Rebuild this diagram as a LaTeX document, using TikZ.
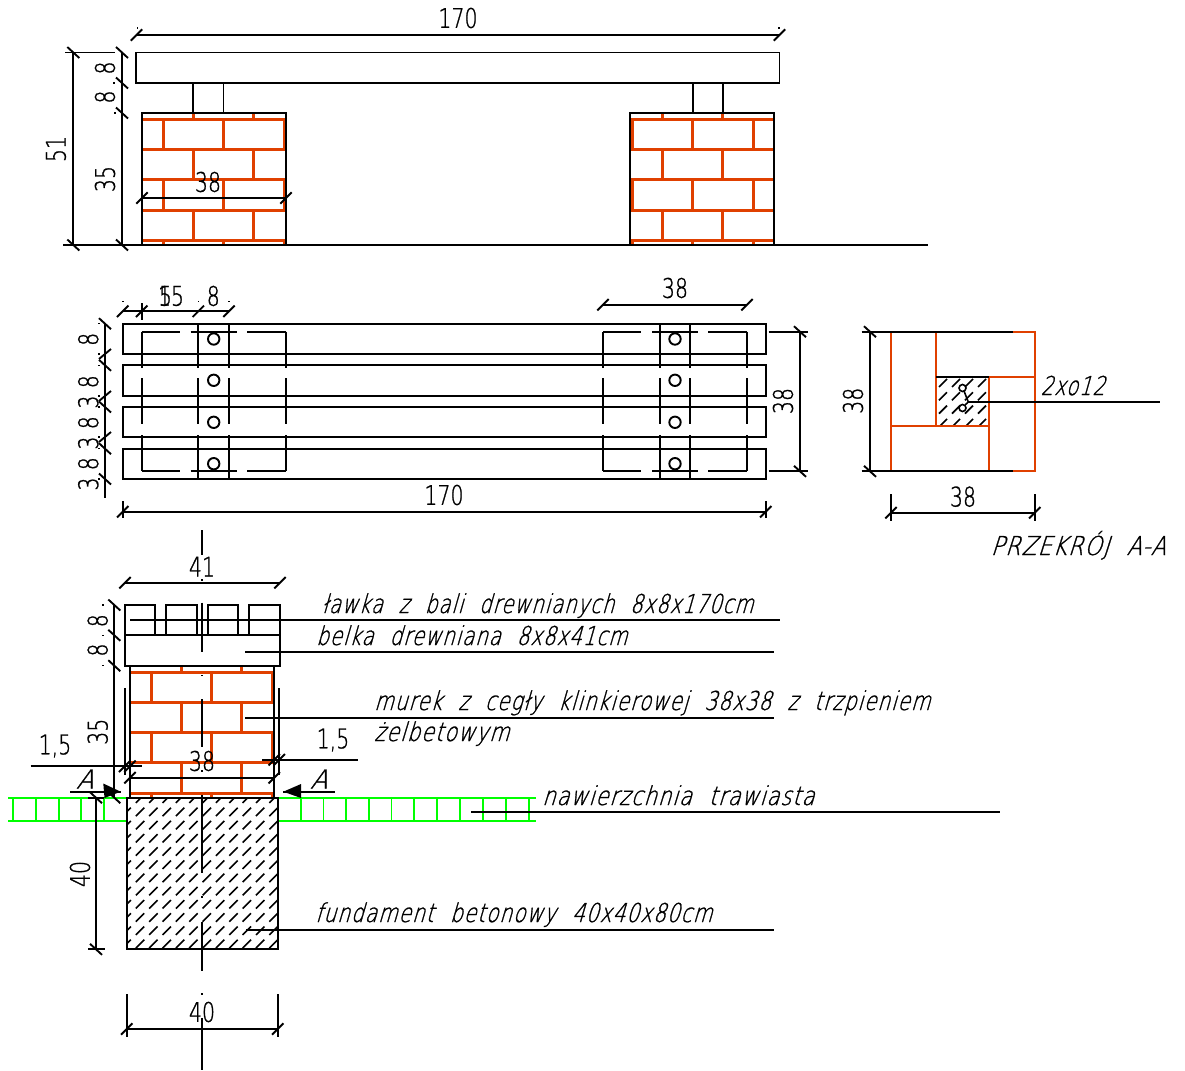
\documentclass[tikz,border=0pt]{standalone}
\usepackage{fontspec}
\usepackage{graphicx}
\setmainfont[FakeStretch=0.76,FakeBold=0.9]{DejaVu Sans ExtraLight}
\newfontfamily\noteface[FakeStretch=0.58,FakeSlant=0.22,FakeBold=0.8,LetterSpace=3,WordSpace=2.2]{DejaVu Sans ExtraLight}
\definecolor{brick}{HTML}{E04000}
\definecolor{grass}{HTML}{00FF00}
\tikzset{
 ln/.style={line width=1.9pt,black},
 thin ln/.style={line width=1.6pt,black},
 br/.style={line width=3pt,brick},
 sec/.style={line width=1.9pt,brick},
 gr/.style={line width=1.9pt,grass},
 dm/.style={font=\fontsize{27}{27}\selectfont,inner sep=0pt},
 dmv/.style={dm,rotate=90},
 note/.style={inner sep=0pt,anchor=base west},
}
\newcommand\fitnote[2]{\resizebox{#1pt}{\height}{\fontsize{26}{26}\noteface #2}}
% ticks
\newcommand\tickh[2]{\draw[ln] (#1-5.7,#2+5.7) -- (#1+5.7,#2-5.7);}
\newcommand\tickv[2]{\draw[ln] (#1-6,#2-5.5) -- (#1+6,#2+5.5);}
\newcommand\hdim[3]{\draw[ln] (#1,#3) -- (#2,#3); \tickh{#1}{#3}\tickh{#2}{#3}}
\newcommand\vdim[3]{\draw[ln] (#3,#1) -- (#3,#2); \tickv{#3}{#1}\tickv{#3}{#2}}
\newcommand\dotm[2]{\fill (#1-.7,#2-.7) rectangle (#1+.7,#2+.7);}
% brick rows
\newcommand\rowv[3]{\foreach \xx in {#3}{\draw[br] (\xx,#1) -- (\xx,#2);}}
\begin{document}
\begin{tikzpicture}[x=1pt,y=-1pt]
\useasboundingbox[fill=white] (0,0) rectangle (1185,1070);
%% ===== front elevation
\foreach \ox/\a/\b/\c/\d/\e in {142/163/223.3/284.3/193.3/253.3, 630/632/692.7/753/662.3/722.7}{
  \foreach \yy in {119.3,149.3,179.3,210,240}{\draw[br] (\ox,\yy) -- (\ox+144,\yy);}
  \rowv{113}{119.3}{\d,\e}
  \rowv{119.3}{149.3}{\a,\b,\c}
  \rowv{149.3}{179.3}{\d,\e}
  \rowv{179.3}{210}{\a,\b,\c}
  \rowv{210}{240}{\d,\e}
  \rowv{240}{245}{\a,\b,\c}
  \draw[ln] (\ox,245) -- (\ox,113) -- (\ox+144,113) -- (\ox+144,245);
}
\draw[ln] (136,52.5) rectangle (779.5,83);
\draw[ln] (193.3,83) rectangle (223.5,113);
\draw[ln] (692.7,83) rectangle (722.7,113);
\draw[ln] (63,245) -- (928,245);
\hdim{136.5}{779.5}{35}
\dotm{137.3}{28}\dotm{779}{28}
\node[dm] (t170a) at (458,18) {170};
\draw[ln] (65,52.5) -- (115,52.5);
\vdim{52.5}{245}{73.3}
\vdim{52.5}{245}{122}
\tickv{122}{83}\tickv{122}{113}
\dotm{114}{83}\dotm{115}{113}
\node[dmv] (t51) at (56,149) {51};
\node[dmv] (t35a) at (105,179) {35};
\node[dmv] (t8a) at (105,68) {8};
\node[dmv] (t8b) at (105,97) {8};
\hdim{142}{286}{198}
\node[dm] (t38a) at (208,182) {38};
%% ===== plan
\foreach \yy/\zz in {323.7/354,365.3/396,407/437,448.7/479}{\draw[ln] (122.7,\yy) rectangle (765.7,\zz);}
\foreach \L/\R/\ma/\mb/\ha/\hb/\hc/\hd/\cx in {141.7/286/198.3/229/180/190.7/236.7/247.3/213.7, 603/747/660/690.3/641.3/652/698.3/708.3/675}{
  \foreach \yy in {331.7,471.3}{
    \draw[ln] (\L,\yy) -- (\ha,\yy);
    \draw[ln] (\hb,\yy) -- (\hc,\yy);
    \draw[ln] (\hd,\yy) -- (\R,\yy);
  }
  \foreach \xx in {\L,\R}{
    \draw[ln] (\xx,331.7) -- (\xx,367.7);
    \draw[ln] (\xx,378.3) -- (\xx,424.3);
    \draw[ln] (\xx,435) -- (\xx,471.3);
  }
  \foreach \xx in {\ma,\mb}{
    \draw[ln] (\xx,323.7) -- (\xx,367.7);
    \draw[ln] (\xx,378.3) -- (\xx,424.3);
    \draw[ln] (\xx,435) -- (\xx,479);
  }
  \foreach \yy in {339,380.3,422.3,463.7}{\draw[ln] (\cx,\yy) circle (5.7);}
}
\draw[ln] (122.7,311.3) -- (229,311.3);
\tickh{122.7}{311.3}\tickh{141.7}{311.3}\tickh{198.3}{311.3}\tickh{229}{311.3}
\draw[ln] (141.7,303) -- (141.7,320);
\dotm{123}{301.7}\dotm{198.3}{301.7}\dotm{229}{301.7}
\node[dm] (t15) at (171,296) {15};
\node[dm] (t5) at (165.5,296) {5};
\node[dm] (t8c) at (213.3,296) {8};
\draw[ln] (105,323) -- (105,497.7);
\foreach \yy in {323.7,365.3,407,448.7,479}{\tickv{105}{\yy}}
\foreach \yy in {354,396,437}{\draw[ln] (99,\yy+5) -- (111,\yy-5);}
\foreach \yy in {323.7,354,365.3,396,407,437,448.7,479}{\dotm{99}{\yy}}
\foreach \txt/\yy in {8/339.3,8/381.7,3/402,8/422.7,3/443,8/463.7,3/484}{\node[dmv] at (88.3,\yy) {\txt};}
\hdim{122.7}{765.7}{511.7}
\draw[ln] (122.7,501) -- (122.7,518);
\draw[ln] (765.7,501) -- (765.7,518);
\node[dm] (t170b) at (444,495) {170};
\hdim{603}{747}{304.7}
\node[dm] (t38b) at (675,288) {38};
\draw[ln] (768.7,331.7) -- (808,331.7);
\draw[ln] (768.7,471.3) -- (808,471.3);
\vdim{331.7}{471.3}{800}
\node[dmv] (t38c) at (783,401) {38};
%% ===== section A-A
\begin{scope}
\clip (936.3,376.7) rectangle (989.3,425.7);
\foreach \rr in {0,1,2,3}{
  \foreach \cc in {0,...,3}{
    \pgfmathsetmacro\hx{943+\cc*13}
    \pgfmathsetmacro\hy{383+\rr*13.3}
    \draw[thin ln] (\hx-4,\hy+4) -- (\hx+4,\hy-4);
  }
}
\end{scope}
\draw[sec] (1012.7,331.7) -- (1034.7,331.7) -- (1034.7,471.3) -- (1012.7,471.3);
\draw[sec] (891,331.7) -- (891,471.3);
\draw[sec] (936.3,331.7) -- (936.3,425.7);
\draw[sec] (989.3,376.7) -- (1034.7,376.7);
\draw[sec] (989.3,376.7) -- (989.3,471.3);
\draw[sec] (891,425.7) -- (989.3,425.7);
\draw[ln] (861.7,331.7) -- (1012.7,331.7);
\draw[ln] (861.7,471.3) -- (1012.7,471.3);
\draw[ln] (936.3,376.7) -- (989.3,376.7);
\vdim{331.7}{471.3}{870}
\node[dmv] (t38d) at (853,400.7) {38};
\hdim{891}{1034.7}{512.7}
\draw[ln] (891,494) -- (891,520.7);
\draw[ln] (1034.7,494) -- (1034.7,520.7);
\node[dm] (t38e) at (963,496.7) {38};
\draw[thin ln] (962.5,388) circle (3.5);
\draw[thin ln] (962.5,408) circle (3.5);
\draw[thin ln] (964,391) -- (968.3,402) -- (965,405);
\draw[ln] (968.3,402.3) -- (1160,402.3);
\node[note] (n2x) at (1040.5,395) {\fitnote{64}{2xo12}};
\node[note] (nprz) at (990.5,555) {\fitnote{175}{PRZEKRÓJ A-A}};
%% ===== vertical section
% foundation hatch
\begin{scope}
\clip (126.7,797.7) rectangle (277.7,949.3);
\foreach \rr in {0,...,12}{
  \foreach \cc in {0,...,11}{
    \pgfmathsetmacro\hx{126.7+\cc*13.35}
    \pgfmathsetmacro\hy{798.7+\rr*13.2}
    \draw[thin ln] (\hx-4.2,\hy+4.2) -- (\hx+4.2,\hy-4.2);
  }
}
\end{scope}
% grass
\draw[gr] (8.3,798.3) -- (126.7,798.3);
\draw[gr] (8.3,821) -- (126.7,821);
\draw[gr] (277.7,798.3) -- (536,798.3);
\draw[gr] (277.7,821) -- (536,821);
\foreach \xx in {13.3,36,58.7,81,104,301,323.5,346,369,391.5,414,437,460,483,506,529}{\draw[gr] (\xx,798.3) -- (\xx,821);}
% bricks
\foreach \yy in {672,702.3,732.3,762.3,793}{\draw[br] (130,\yy) -- (274.3,\yy);}
\rowv{665.7}{672}{181.3,241.7}
\rowv{672}{702.3}{151,211.7,272.3}
\rowv{702.3}{732.3}{181.3,241.7}
\rowv{732.3}{762.3}{151,211.7,272.3}
\rowv{762.3}{793}{181.3,241.7}
\rowv{793}{797.7}{151,211.7,272.3}
\draw[ln] (130,665.7) -- (130,797.7);
\draw[ln] (274.3,665.7) -- (274.3,797.7);
% timber
\foreach \xa/\xb in {124.7/155,166/196.7,207.7/238.3,249.3/280}{\draw[ln] (\xa,605) rectangle (\xb,635.3);}
\draw[ln] (124.7,635.3) rectangle (280,665.7);
\draw[ln] (126.7,797.7) rectangle (277.7,949.3);
% centre line
\foreach \ya/\yb in {530/555,602.7/651.7,699/746.7,795/873,921.7/970.7,1018/1070}{\draw[ln] (202,\ya) -- (202,\yb);}
\foreach \yy in {580,675.7,771,897,994}{\dotm{202}{\yy}}
% dims
\hdim{125}{280}{582.7}
\node[dm] (t41) at (202,566.7) {41};
\vdim{605}{797.7}{114.3}
\tickv{114.3}{635.3}\tickv{114.3}{665.7}
\dotm{103}{605}\dotm{103}{635.3}\dotm{103}{665.7}
\node[dmv] (t8d) at (97.7,620.7) {8};
\node[dmv] (t8e) at (97.7,650) {8};
\node[dmv] (t35b) at (97.7,731.7) {35};
\draw[ln] (124.7,688) -- (124.7,775);
\draw[ln] (279.3,688) -- (279.3,775);
\draw[ln] (30.7,766.3) -- (142.3,766.3);
\tickh{124.7}{766.3}\tickh{130}{766.3}
\node[dm] (t15a) at (55,746) {1,5};
\draw[ln] (262.3,759.7) -- (357.6,759.7);
\tickh{274.3}{759.7}\tickh{279.3}{759.7}
\node[dm] (t15b) at (333,740) {1,5};
\hdim{130}{274.3}{777.7}
\node[dm] (t38f) at (202,761) {38};
% section marks
\draw[ln] (70,791.7) -- (120.7,791.7);
\fill (120.7,791.7) -- (103.3,783.5) -- (104.5,798) -- cycle;
\draw[ln] (283.3,791.7) -- (335,791.7);
\fill (283.3,791.7) -- (301,784) -- (301,798) -- cycle;
\node[note] (nA1) at (76,788.5) {\fitnote{17}{A}};
\node[note] (nA2) at (310,788.5) {\fitnote{17}{A}};
% 40 dims
\draw[ln] (88,797.7) -- (104,797.7);
\draw[ln] (88,949.3) -- (105,949.3);
\vdim{797.7}{949.3}{96}
\node[dmv] (t40a) at (80,874) {40};
\hdim{126.7}{277.7}{1029}
\draw[ln] (126.7,994.3) -- (126.7,1036.7);
\draw[ln] (277.7,994.3) -- (277.7,1036.7);
\node[dm] (t40b) at (202,1012) {40};
% leaders
\draw[ln] (130,620) -- (780,620);
\draw[ln] (245,652) -- (774,652);
\draw[ln] (245,718.3) -- (774,718.3);
\draw[ln] (471.4,811.7) -- (1000,811.7);
\draw[ln] (246,930) -- (774,930);
\node[note] (nlaw) at (322,613) {\fitnote{431}{ławka z bali drewnianych 8x8x170cm}};
\node[note] (nbel) at (316,645) {\fitnote{311}{belka drewniana 8x8x41cm}};
\node[note] (nmur) at (374,710) {\fitnote{556}{murek z cegły klinkierowej 38x38 z trzpieniem}};
\node[note] (nzel) at (374,741) {\fitnote{135}{żelbetowym}};
\node[note] (nnaw) at (542,805) {\fitnote{272}{nawierzchnia trawiasta}};
\node[note] (nfun) at (315,922) {\fitnote{397}{fundament betonowy 40x40x80cm}};
\end{tikzpicture}
\end{document}
